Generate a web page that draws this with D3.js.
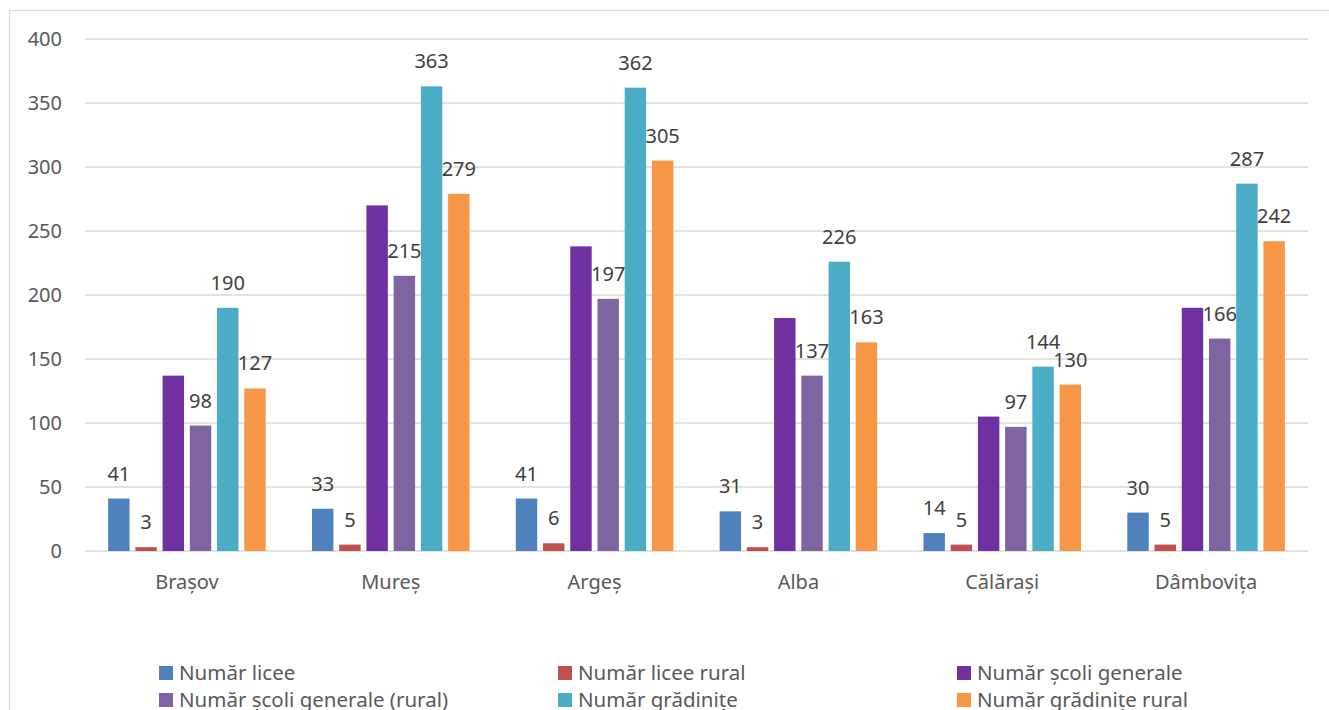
<!DOCTYPE html>
<html>
<head>
<meta charset="utf-8">
<script src="https://cdn.jsdelivr.net/npm/d3@7"></script>
<style>
  body { margin: 0; background: #fff; }
  svg { font-family: "Noto Sans", sans-serif; }
</style>
</head>
<body>
<script>
// judete
var categories = ["Brașov", "Mureș", "Argeș", "Alba", "Călărași", "Dâmbovița"];

// serii
var seriesNames = ["Număr licee", "Număr licee rural", "Număr școli generale",
  "Număr școli generale (rural)", "Număr grădinițe", "Număr grădinițe rural"];
var seriesColors = ["#4F81BD", "#C0504D", "#7030A0", "#8064A2", "#4BACC6", "#F79646"];

var licee = [41, 33, 41, 31, 14, 30];
var liceeRural = [3, 5, 6, 3, 5, 5];
var scoliGenerale = [137, 270, 238, 182, 105, 190];
var scoliGeneraleRural = [98, 215, 197, 137, 97, 166];
var gradinite = [190, 363, 362, 226, 144, 287];
var gradiniteRural = [127, 279, 305, 163, 130, 242];

// seria fara etichete (scoli generale)
var showLabels = [true, true, false, true, true, true];

var yTicks = [0, 50, 100, 150, 200, 250, 300, 350, 400];

var allSeries = [licee, liceeRural, scoliGenerale, scoliGeneraleRural, gradinite, gradiniteRural];

var W = 1329, H = 710;
// zona graficului (nu folosi "top", e window.top)
var plotLeft = 85, plotRight = 1308, plotTop = 39, plotBottom = 551;

var svg = d3.select("body").append("svg")
  .attr("width", W)
  .attr("height", H);

// chenarul graficului
svg.append("rect")
  .attr("x", 9.5).attr("y", 10.5)
  .attr("width", W + 20).attr("height", H + 20)
  .attr("fill", "#fff")
  .attr("stroke", "#d9d9d9")
  .attr("stroke-width", 1.3);

var x0 = d3.scaleBand().domain(categories).range([plotLeft, plotRight]);
var x1 = d3.scaleBand().domain(d3.range(seriesNames.length))
  .range([0, x0.bandwidth()])
  .paddingInner(0.213)
  .paddingOuter(0.85);
var y = d3.scaleLinear().domain([0, 400]).range([plotBottom, plotTop]);

// grila
svg.append("g").selectAll("line")
  .data(yTicks)
  .enter().append("line")
  .attr("x1", plotLeft).attr("x2", plotRight)
  .attr("y1", function(d) { return y(d); })
  .attr("y2", function(d) { return y(d); })
  .attr("stroke", "#d9d9d9")
  .attr("stroke-width", 1.3);

// axa Y
var yAxis = svg.append("g")
  .attr("transform", "translate(" + 62 + ",0)")
  .call(d3.axisLeft(y).tickValues(yTicks).tickSize(0).tickPadding(0));
yAxis.select(".domain").remove();
yAxis.selectAll("text")
  .attr("fill", "#595959")
  .style("font-size", "20px")
  .style("font-family", "Noto Sans, sans-serif");

// axa X
var xAxis = svg.append("g")
  .attr("transform", "translate(0," + plotBottom + ")")
  .call(d3.axisBottom(x0).tickSize(0).tickPadding(24));
xAxis.select(".domain").remove();
xAxis.selectAll("text")
  .attr("fill", "#595959")
  .style("font-size", "20px")
  .style("font-family", "Noto Sans, sans-serif");

// bare
var rows = [];
categories.forEach(function(c, ci) {
  allSeries.forEach(function(s, si) {
    rows.push({cat: c, s: si, v: s[ci]});
  });
});

svg.append("g").selectAll("rect")
  .data(rows)
  .enter().append("rect")
  .attr("x", function(d) { return x0(d.cat) + x1(d.s); })
  .attr("y", function(d) { return y(d.v); })
  .attr("width", x1.bandwidth())
  .attr("height", function(d) { return y(0) - y(d.v); })
  .attr("fill", function(d) { return seriesColors[d.s]; });

// etichete valori
svg.append("g").selectAll("text")
  .data(rows.filter(function(d) { return showLabels[d.s]; }))
  .enter().append("text")
  .attr("x", function(d) { return x0(d.cat) + x1(d.s) + x1.bandwidth() / 2; })
  .attr("y", function(d) { return y(d.v) - 18; })
  .attr("text-anchor", "middle")
  .attr("fill", "#404040")
  .style("font-size", "20px")
  .text(function(d) { return d.v; });

// legenda
var legend = svg.append("g").selectAll("g")
  .data(seriesNames)
  .enter().append("g")
  .attr("transform", function(d, i) {
    return "translate(" + (159 + (i % 3) * 399) + "," + (666 + Math.floor(i / 3) * 27) + ")";
  });

legend.append("rect")
  .attr("width", 14).attr("height", 14)
  .attr("fill", function(d, i) { return seriesColors[i]; });

legend.append("text")
  .attr("x", 20)
  .attr("y", 14)
  .attr("fill", "#595959")
  .style("font-size", "20.5px")
  .text(function(d) { return d; });
</script>
</body>
</html>
